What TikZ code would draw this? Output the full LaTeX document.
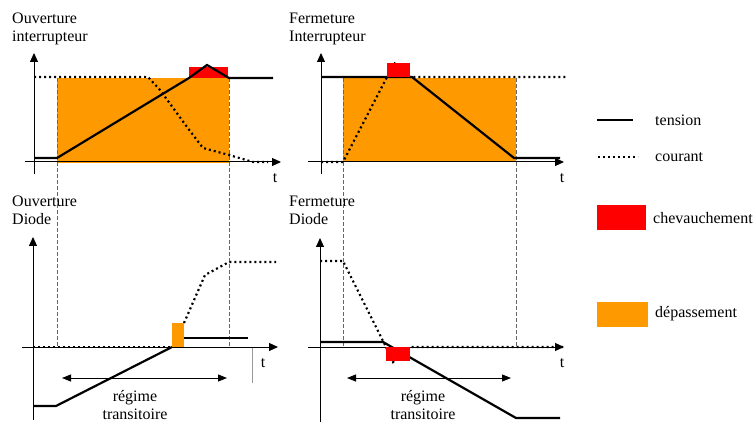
\documentclass[tikz,border=0pt]{standalone}
\usepackage{fontspec}
\setmainfont{Liberation Serif}
\usepackage{xcolor}
\usepackage{tikz}
\usetikzlibrary{arrows.meta,positioning}

\definecolor{depas}{RGB}{255,153,0}
\definecolor{chev}{RGB}{255,0,0}

\begin{document}
\begin{tikzpicture}[
  x=1pt, y=-1pt,
  font=\fontsize{16}{18}\selectfont,
  lbl/.style={inner sep=0pt, align=left},
  volt/.style={line width=2.2pt},
  courant/.style={line width=2.2pt, dash pattern=on 2pt off 3pt},
  axe/.style={line width=1pt, -{Triangle[length=9pt,width=8pt]}},
  repere/.style={black!60, line width=0.8pt, dash pattern=on 4pt off 2pt},
  fleche/.style={line width=0.9pt, {Triangle[length=9pt,width=7pt]}-{Triangle[length=9pt,width=7pt]}}]
  \useasboundingbox (0,0) rectangle (755,422);

  % titres
  \node[lbl, anchor=north west] (t1) at (12,13) {Ouverture\\interrupteur};
  \node[lbl, anchor=north west] (t2) at (289,13) {Fermeture\\Interrupteur};
  \node[lbl, anchor=north west] (t3) at (12,196) {Ouverture\\Diode};
  \node[lbl, anchor=north west] (t4) at (289,196) {Fermeture\\Diode};

  % zones
  \fill[depas] (57,78) rectangle (229,163);
  \fill[depas] (343,78) rectangle (516,162);
  \fill[chev] (189,67) rectangle (228,78);
  \fill[depas] (172,323) rectangle (184,347);

  % reperes verticaux
  \draw[repere] (57,78) -- (57,347);
  \draw[repere] (229,78) -- (229,347);
  \draw[repere] (343,78) -- (343,347);
  \draw[repere] (516,78) -- (516,347);
  \draw[black!40, line width=0.4pt] (252,347) -- (252,383);

  % axes
  \draw[axe] (34,174) -- (34,53);
  \draw[axe] (25,162) -- (281,162);
  \draw[axe] (321,174) -- (321,53);
  \draw[axe] (308,162) -- (564,162);
  \draw[axe] (33,420) -- (33,237);
  \draw[axe] (22,347) -- (278,347);
  \draw[axe] (320,422) -- (320,238);
  \draw[axe] (308,347) -- (564,347);
  \node[lbl] (tx1) at (275,178) {t};
  \node[lbl] (tx2) at (562,178) {t};
  \node[lbl] (tx3) at (263,363) {t};
  \node[lbl] (tx4) at (562,363) {t};

  % ouverture interrupteur
  \draw[courant] (34,77) -- (148,77) -- (160,90) -- (187,127) -- (203,148)
    -- (229,155) -- (253,162) -- (268,162);
  \draw[volt] (34,158) -- (57,158) -- (189,78) -- (207,65) -- (229,78) -- (273,78);

  % fermeture interrupteur
  \draw[courant] (321,162) -- (343,162) -- (387,77) -- (393,62) -- (410,77) -- (566,77);
  \draw[volt] (321,77) -- (412,77) -- (514,158) -- (560,158);
  \fill[chev] (387,63) rectangle (410,77);

  % ouverture diode
  \draw[courant] (33,347) -- (172,347);
  \draw[courant] (184,323) -- (205,275) -- (229,262) -- (276,262);
  \draw[volt] (33,406) -- (56,406) -- (172,347);
  \draw[volt] (184,338) -- (248,338);
  \draw[fleche] (62,378) -- (227,378);
  \node[lbl, align=center] (r1) at (135,405) {régime\\transitoire};

  % fermeture diode
  \draw[courant] (320,261) -- (343,261) -- (385,345) -- (393,362) -- (410,347) -- (563,347);
  \draw[volt] (320,342) -- (383,342) -- (516,418) -- (560,418);
  \fill[chev] (386,347) rectangle (410,361);
  \draw[fleche] (347,378) -- (511,378);
  \node[lbl, align=center] (r2) at (423,405) {régime\\transitoire};

  % legende
  \draw[volt] (597,120) -- (633,120);
  \node[lbl, anchor=west] (lt) at (655,120) {tension};
  \draw[courant] (598,157) -- (638,157);
  \node[lbl, anchor=west] (lc) at (655,157) {courant};
  \fill[chev] (597,205) rectangle (646,230);
  \node[lbl, anchor=west] (lch) at (653,218) {chevauchement};
  \fill[depas] (597,302) rectangle (648,327);
  \node[lbl, anchor=west] (ld) at (655,314) {dépassement};
\end{tikzpicture}
\end{document}
